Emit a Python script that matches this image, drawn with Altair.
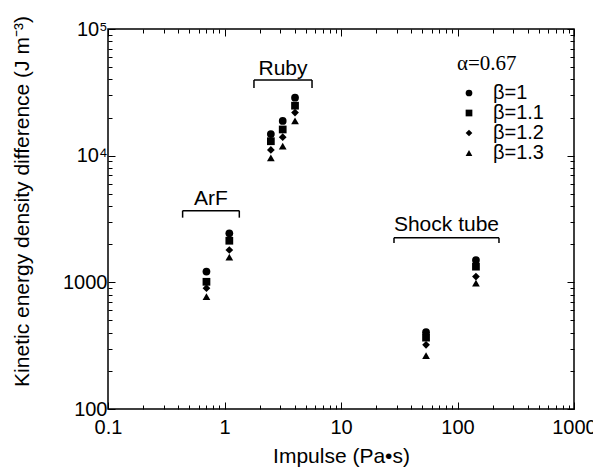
import altair as alt
import pandas as pd

# ---- data ----
groups = ["ArF", "ArF", "Ruby", "Ruby", "Ruby", "Shock tube", "Shock tube"]
impulse = [0.70, 1.10, 2.5, 3.16, 4.03, 53.7, 144]
beta_labels = ["β=1", "β=1.1", "β=1.2", "β=1.3"]
beta_shapes = ["circle", "square", "diamond", "triangle-up"]
ke_b10 = [1215, 2440, 14800, 18800, 28700, 404, 1500]
ke_b11 = [1010, 2130, 13000, 16100, 24800, 366, 1330]
ke_b12 = [900, 1800, 11100, 14000, 21900, 321, 1110]
ke_b13 = [770, 1580, 9600, 11900, 18800, 264, 984]

bracket_names = ["ArF", "Ruby", "Shock tube"]
bracket_x1 = [0.437, 1.79, 28.5]
bracket_x2 = [1.34, 5.64, 227]
bracket_y = [3680, 39500, 2250]
bracket_y_end = [3240, 34200, 2040]
label_x = [0.765, 3.18, 80.4]
label_y = [4085, 43300, 2546]

x_major = [0.1, 1, 10, 100, 1000]
x_major_labels = ["0.1", "1", "10", "100", "1000"]
y_major = [100, 1000, 10000, 100000]
y_major_labels = ["100", "1000", "10⁴", "10⁵"]

x_ticks = sorted(set([round(m * 10.0 ** e, 6) for e in range(-1, 3) for m in range(1, 10)] + [1000]))
y_ticks = sorted(set([round(m * 10.0 ** e, 6) for e in range(2, 5) for m in range(1, 10)] + [100000]))

rows = []
for vals, b in zip([ke_b10, ke_b11, ke_b12, ke_b13], beta_labels):
    for g, x, v in zip(groups, impulse, vals):
        rows.append({"group": g, "impulse": x, "ke": v, "beta": b})
pts = pd.DataFrame(rows)

br = pd.DataFrame({"name": bracket_names, "x1": bracket_x1, "x2": bracket_x2,
                   "y": bracket_y, "ye": bracket_y_end, "lx": label_x, "ly": label_y})

FONT = "Liberation Sans"
major = "abs(log(datum.value)/LN10 - round(log(datum.value)/LN10)) < 0.001"


def label_expr(values, labels):
    expr = "''"
    for v, l in zip(reversed(values), reversed(labels)):
        expr = f"abs(datum.value - {v}) < {v}*1e-6 ? '{l}' : ({expr})"
    return expr


tick_size = {"condition": {"test": major, "value": -7}, "value": -4}

xscale = alt.Scale(type="log", domain=[0.1, 1000], nice=False)
yscale = alt.Scale(type="log", domain=[100, 100000], nice=False)

common = dict(domain=False, grid=False, tickColor="black", tickWidth=1,
              tickSize=tick_size, labelFont=FONT, labelFontSize=20, labelColor="black",
              titleFont=FONT, titleFontSize=21, titleFontWeight="normal", titleColor="black")

bottom_axis = alt.Axis(orient="bottom", values=x_ticks, labelExpr=label_expr(x_major, x_major_labels),
                       labelPadding=15, title="Impulse (Pa•s)", titlePadding=5, labelFlush=False,
                       labelOverlap=False, **common)
left_axis = alt.Axis(orient="left", values=y_ticks, labelExpr=label_expr(y_major, y_major_labels),
                     labelPadding=8, title="Kinetic energy density difference (J m⁻³)",
                     titleX=-80, titleY=172, titleBaseline="alphabetic", titleAngle=270,
                     labelFlush=False, labelOverlap=False, **common)
top_axis = alt.Axis(orient="top", values=x_ticks, labels=False, title=None, **common)
right_axis = alt.Axis(orient="right", values=y_ticks, labels=False, title=None, **common)

points = alt.Chart(pts).mark_point(filled=True, size=60, color="black", opacity=1).encode(
    x=alt.X("impulse:Q", scale=xscale, axis=bottom_axis),
    y=alt.Y("ke:Q", scale=yscale, axis=left_axis),
    shape=alt.Shape("beta:N", scale=alt.Scale(domain=beta_labels, range=beta_shapes),
                    legend=alt.Legend(orient="none", legendX=349, legendY=24, title="α=0.67",
                                      titleFont="Liberation Serif", titleFontSize=21,
                                      titleFontWeight="normal", titleColor="black", titlePadding=9,
                                      labelFont=FONT, labelFontSize=20, labelColor="black",
                                      symbolSize=45, symbolFillColor="black", symbolStrokeColor="black",
                                      symbolOffset=2, labelOffset=14, rowPadding=-2)),
)

hline = alt.Chart(br).mark_rule(color="black", strokeWidth=1.5).encode(
    x=alt.X("x1:Q", scale=xscale, axis=top_axis), x2="x2:Q",
    y=alt.Y("y:Q", scale=yscale, axis=right_axis),
)
lt = alt.Chart(br).mark_rule(color="black", strokeWidth=1.5).encode(
    x=alt.X("x1:Q", scale=xscale, axis=None),
    y=alt.Y("y:Q", scale=yscale, axis=None), y2="ye:Q",
)
rt = alt.Chart(br).mark_rule(color="black", strokeWidth=1.5).encode(
    x=alt.X("x2:Q", scale=xscale, axis=None),
    y=alt.Y("y:Q", scale=yscale, axis=None), y2="ye:Q",
)
txt = alt.Chart(br).mark_text(font=FONT, fontSize=21, baseline="alphabetic", color="black").encode(
    x=alt.X("lx:Q", scale=xscale, axis=None),
    y=alt.Y("ly:Q", scale=yscale, axis=None),
    text="name:N",
)

chart = alt.layer(points, hline, lt, rt, txt).resolve_axis(
    x="independent", y="independent"
).properties(
    width=466, height=380,
    autosize=alt.AutoSizeParams(type="none"),
    padding={"left": 100, "top": 21, "right": 19, "bottom": 59},
).configure_view(stroke="black", strokeWidth=1.5)

chart.save("out.html", embed_options={"renderer": "svg", "actions": False})
